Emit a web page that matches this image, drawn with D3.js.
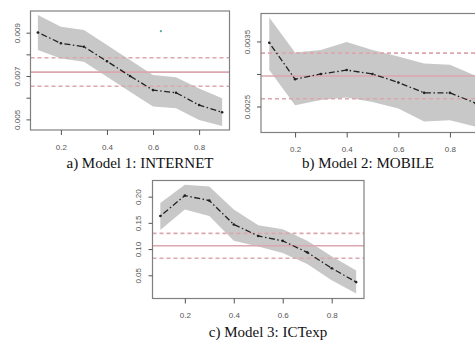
<!DOCTYPE html>
<html>
    <head>
        <meta charset="UTF-8">
        <script src="https://d3js.org/d3.v7.min.js"></script>
        <style>
            body { margin: 0; background: white; }
            .box { fill: none; stroke: #808080; stroke-width: 1.2px; }
            .band { fill: #c8c8c8; stroke: none; }
            .est { fill: none; stroke: #222; stroke-width: 1.3px; stroke-dasharray: 1.5,2.5,6,2.5; }
            .dot { fill: #222; }
            .ref { stroke: #dba6ae; stroke-width: 1.6px; }
            .ref.dash { stroke-dasharray: 4,3; }
            .tick line { stroke: #555; }
            .tick text { font-family: "Liberation Sans", Arial, sans-serif; font-size: 8px; fill: #555; }
            .caption { font-family: "Liberation Serif", "Times New Roman", serif; font-size: 15px; fill: #111; }
        </style>
    </head>
    <body>
        <svg width="475" height="340"></svg>
        <script>
            const quantiles = [0.1, 0.2, 0.3, 0.4, 0.5, 0.6, 0.7, 0.8, 0.9];

            // Model 1: INTERNET
            const internetEst   = [0.00901, 0.00851, 0.00835, 0.00768, 0.00700, 0.00635, 0.00623, 0.00566, 0.00533];
            const internetUpper = [0.00981, 0.00927, 0.00912, 0.00843, 0.00774, 0.00705, 0.00694, 0.00643, 0.00597];
            const internetLower = [0.00820, 0.00781, 0.00766, 0.00697, 0.00628, 0.00559, 0.00551, 0.00497, 0.00470];
            const internetOls   = [0.00718, 0.00784, 0.00653];   // estimate, upper, lower
            const internetTicks = [0.005, 0.006, 0.007, 0.008, 0.009];
            const internetStray = [0.634, 0.00907];

            // Model 2: MOBILE
            const mobileEst   = [0.00348, 0.00292, 0.00300, 0.00306, 0.00300, 0.00287, 0.00271, 0.00271, 0.00255];
            const mobileUpper = [0.00387, 0.00333, 0.00337, 0.00349, 0.00337, 0.00327, 0.00316, 0.00314, 0.00297];
            const mobileLower = [0.00306, 0.00252, 0.00260, 0.00264, 0.00257, 0.00247, 0.00227, 0.00229, 0.00219];
            const mobileOls   = [0.00297, 0.00332, 0.00262];
            const mobileTicks = [0.0025, 0.0030, 0.0035];

            // Model 3: ICTexp
            const ictEst   = [0.163, 0.202, 0.1925, 0.147, 0.125, 0.1157, 0.0937, 0.0635, 0.037];
            const ictUpper = [0.188, 0.2226, 0.2195, 0.1755, 0.1453, 0.1377, 0.1157, 0.0862, 0.0591];
            const ictLower = [0.1365, 0.1755, 0.1629, 0.1157, 0.105, 0.0925, 0.0717, 0.0403, 0.0151];
            const ictOls   = [0.1063, 0.130, 0.0824];
            const ictTicks = [0.05, 0.10, 0.15, 0.20];

            const xTicks = [0.2, 0.4, 0.6, 0.8];

            const svg = d3.select("svg");

            function drawPanel (p) {
                const g = svg.append("g");

                // R pads the data range by 4% on each side
                const x = d3.scaleLinear()
                    .domain([0.1 - 0.032, 0.9 + 0.032])
                    .range([p.left, p.right]);
                const y = d3.scaleLinear()
                    .domain(p.yDomain)
                    .range([p.bottom, p.top]);

                const rows = quantiles.map((q, i) => ({ q: q, est: p.est[i], lo: p.lower[i], hi: p.upper[i] }));

                g.append("path")
                    .datum(rows)
                    .attr("class", "band")
                    .attr("d", d3.area().x(d => x(d.q)).y0(d => y(d.lo)).y1(d => y(d.hi)));

                // OLS line and its confidence bounds
                p.ols.forEach((v, i) => {
                    g.append("line")
                        .attr("class", i === 0 ? "ref" : "ref dash")
                        .attr("x1", p.left).attr("x2", p.right)
                        .attr("y1", y(v)).attr("y2", y(v));
                });

                g.append("path")
                    .datum(rows)
                    .attr("class", "est")
                    .attr("d", d3.line().x(d => x(d.q)).y(d => y(d.est)));

                g.selectAll(".dot")
                    .data(rows)
                    .join("circle")
                        .attr("class", "dot")
                        .attr("cx", d => x(d.q))
                        .attr("cy", d => y(d.est))
                        .attr("r", 1.3);

                if (p.stray) {
                    g.append("circle")
                        .attr("cx", x(p.stray[0])).attr("cy", y(p.stray[1]))
                        .attr("r", 1.1).attr("fill", "#5aa6a0");
                }

                g.append("rect")
                    .attr("class", "box")
                    .attr("x", p.left).attr("y", p.top)
                    .attr("width", p.right - p.left).attr("height", p.bottom - p.top);

                // axes
                const xAxis = g.append("g")
                    .attr("transform", `translate(0, ${p.bottom})`)
                    .call(d3.axisBottom(x).tickValues(xTicks).tickFormat(d3.format(".1f")).tickSize(5).tickPadding(9));
                xAxis.select(".domain").remove();

                const yAxis = g.append("g")
                    .attr("transform", `translate(${p.left}, 0)`)
                    .call(d3.axisLeft(y).tickValues(p.ticks).tickSize(4).tickFormat(p.fmt));
                yAxis.select(".domain").remove();
                yAxis.selectAll(".tick text")
                    .attr("text-anchor", "middle")
                    .attr("x", null).attr("dy", null)
                    .attr("transform", `translate(${p.labelX - p.left}, 0) rotate(-90)`)
                    .attr("dominant-baseline", "middle")
                    .text((d, i) => p.labelled.includes(i) ? p.fmt(d) : "");

                g.append("text")
                    .attr("class", "caption")
                    .attr("x", p.capX).attr("y", p.capY)
                    .attr("text-anchor", "middle")
                    .text(p.caption);
            }

            drawPanel({
                left: 30.5, right: 229.5, top: 11, bottom: 130,
                yDomain: [0.00451, 0.0100],
                est: internetEst, upper: internetUpper, lower: internetLower, ols: internetOls,
                ticks: internetTicks, labelled: [0, 2, 4], fmt: d3.format(".3f"), labelX: 18,
                stray: internetStray,
                caption: "a) Model 1: INTERNET", capX: 140, capY: 168
            });

            drawPanel({
                left: 261, right: 484, top: 13.5, bottom: 132.5,
                yDomain: [0.00210, 0.00393],
                est: mobileEst, upper: mobileUpper, lower: mobileLower, ols: mobileOls,
                ticks: mobileTicks, labelled: [0, 2], fmt: d3.format(".4f"), labelX: 248,
                caption: "b) Model 2: MOBILE", capX: 368, capY: 168
            });

            drawPanel({
                left: 152.5, right: 364, top: 180.5, bottom: 298.5,
                yDomain: [0.0057, 0.2308],
                est: ictEst, upper: ictUpper, lower: ictLower, ols: ictOls,
                ticks: ictTicks, labelled: [0, 1, 2, 3], fmt: d3.format(".2f"), labelX: 139,
                caption: "c) Model 3: ICTexp", capX: 268, capY: 337
            });
        </script>
    </body>
</html>
